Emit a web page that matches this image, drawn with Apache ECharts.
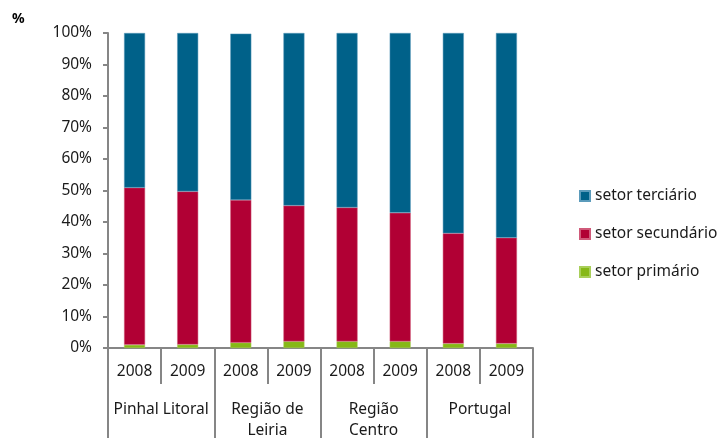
<!DOCTYPE html>
<html>
<head>
<meta charset="utf-8">
<script src="https://cdn.jsdelivr.net/npm/echarts@6/dist/echarts.min.js"></script>
<style>
  html, body { margin: 0; padding: 0; background: #fff; }
  #chart { width: 718px; height: 438px; }
</style>
</head>
<body>
<div id="chart"></div>
<script>
// categorias
const years = ['2008', '2009', '2008', '2009', '2008', '2009', '2008', '2009']
const regions = ['Pinhal Litoral', 'Região de\nLeiria', 'Região\nCentro', 'Portugal']
// valores (%)
const primario = [1.0, 1.1, 1.7, 2.1, 2.1, 2.1, 1.4, 1.4]
const secundario = [49.9, 48.6, 45.3, 43.1, 42.5, 40.8, 35.0, 33.6]
const terciario = [49.1, 50.3, 52.8, 54.8, 55.4, 57.1, 63.6, 65.0]

const font = 'Noto Sans'
const axisGray = '#868686'
const txt = '#1a1a1a'

const chart = echarts.init(document.getElementById('chart'))

const option = {
  animation: false,
  textStyle: { fontFamily: font },
  graphic: [{
    type: 'text', left: 12, top: 12,
    style: { text: '%', font: 'bold 14px ' + font, fill: '#000' }
  }],
  grid: { left: 108, right: 185, top: 33, bottom: 90, outerBoundsMode: 'none', containLabel: false },
  legend: {
    orient: 'vertical',
    left: 574, top: 183,
    itemWidth: 10, itemHeight: 10, itemGap: 22,
    icon: 'rect',
    textStyle: { fontFamily: font, fontSize: 15.5, color: txt },
    data: ['setor terciário', 'setor secundário', 'setor primário']
  },
  xAxis: [
    {
      type: 'category',
      data: years,
      axisLine: { lineStyle: { color: axisGray, width: 2 } },
      axisTick: { show: true, interval: 0, length: 36, lineStyle: { color: axisGray, width: 2 } },
      axisLabel: { interval: 0, margin: 16, fontSize: 15.5, color: txt, fontFamily: font }
    },
    {
      type: 'category',
      position: 'bottom',
      data: regions,
      axisLine: { show: false },
      axisTick: { show: true, interval: 0, length: 92, lineStyle: { color: axisGray, width: 2 } },
      axisLabel: { interval: 0, margin: 51, fontSize: 15.5, lineHeight: 21, color: txt, fontFamily: font, verticalAlign: 'top' }
    }
  ],
  yAxis: {
    type: 'value',
    min: 0, max: 100, interval: 10,
    splitLine: { show: false },
    axisLine: { show: true, lineStyle: { color: axisGray, width: 2 } },
    axisTick: { show: true, length: 5, lineStyle: { color: axisGray, width: 2 } },
    axisLabel: { formatter: '{value}%', fontSize: 15.5, color: txt, margin: 16, fontFamily: font }
  },
  series: [
    {
      name: 'setor primário', type: 'bar', stack: 'total', barWidth: 21,
      data: primario,
      itemStyle: { color: '#86b817', borderColor: '#a9cf5a', borderWidth: 0.5 }
    },
    {
      name: 'setor secundário', type: 'bar', stack: 'total', barWidth: 21,
      data: secundario,
      itemStyle: { color: '#b10034', borderColor: '#d05a7a', borderWidth: 0.5 }
    },
    {
      name: 'setor terciário', type: 'bar', stack: 'total', barWidth: 21,
      data: terciario,
      itemStyle: { color: '#006189', borderColor: '#5b9bbb', borderWidth: 0.5 }
    }
  ]
}

chart.setOption(option)
</script>
</body>
</html>
